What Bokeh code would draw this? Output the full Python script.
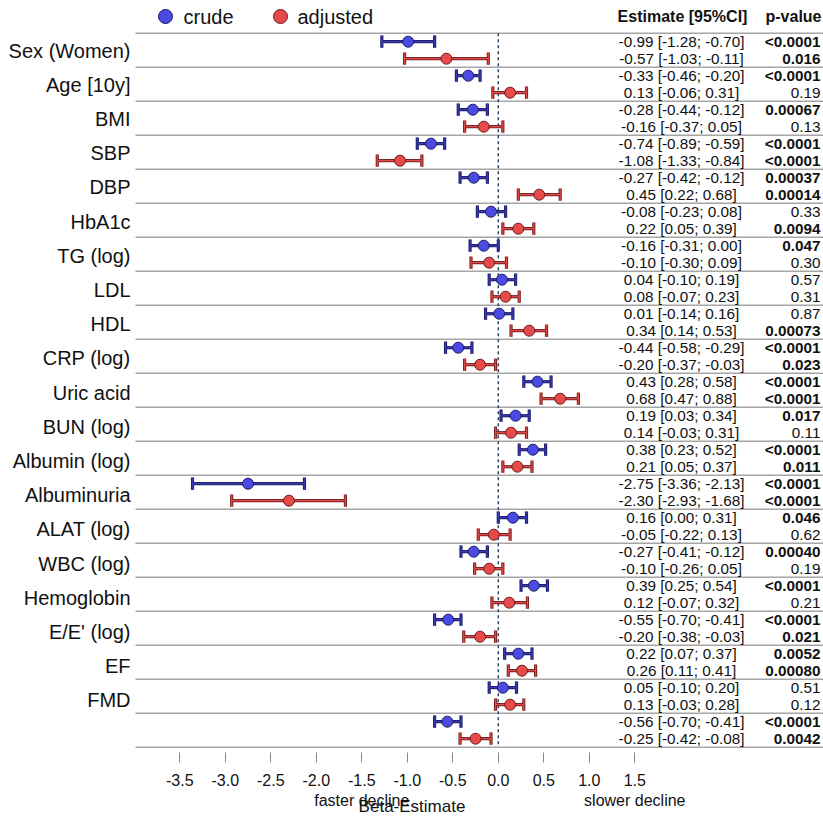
from bokeh.plotting import figure
from bokeh.models import Range1d, LinearAxis, FixedTicker, ColumnDataSource
from bokeh.core.properties import value
from bokeh.embed import file_html
from bokeh.resources import INLINE

# ---------------- data ----------------
labels = ["Sex (Women)", "Age [10y]", "BMI", "SBP", "DBP", "HbA1c", "TG (log)",
          "LDL", "HDL", "CRP (log)", "Uric acid", "BUN (log)", "Albumin (log)",
          "Albuminuria", "ALAT (log)", "WBC (log)", "Hemoglobin", "E/E' (log)",
          "EF", "FMD", ""]

crude_est = [-0.99, -0.33, -0.28, -0.74, -0.27, -0.08, -0.16, 0.04, 0.01, -0.44,
             0.43, 0.19, 0.38, -2.75, 0.16, -0.27, 0.39, -0.55, 0.22, 0.05, -0.56]
crude_lo = [-1.28, -0.46, -0.44, -0.89, -0.42, -0.23, -0.31, -0.10, -0.14, -0.58,
            0.28, 0.03, 0.23, -3.36, 0.00, -0.41, 0.25, -0.70, 0.07, -0.10, -0.70]
crude_hi = [-0.70, -0.20, -0.12, -0.59, -0.12, 0.08, 0.00, 0.19, 0.16, -0.29,
            0.58, 0.34, 0.52, -2.13, 0.31, -0.12, 0.54, -0.41, 0.37, 0.20, -0.41]
crude_p = ["<0.0001", "<0.0001", "0.00067", "<0.0001", "0.00037", "0.33", "0.047",
           "0.57", "0.87", "<0.0001", "<0.0001", "0.017", "<0.0001", "<0.0001",
           "0.046", "0.00040", "<0.0001", "<0.0001", "0.0052", "0.51", "<0.0001"]

adj_est = [-0.57, 0.13, -0.16, -1.08, 0.45, 0.22, -0.10, 0.08, 0.34, -0.20,
           0.68, 0.14, 0.21, -2.30, -0.05, -0.10, 0.12, -0.20, 0.26, 0.13, -0.25]
adj_lo = [-1.03, -0.06, -0.37, -1.33, 0.22, 0.05, -0.30, -0.07, 0.14, -0.37,
          0.47, -0.03, 0.05, -2.93, -0.22, -0.26, -0.07, -0.38, 0.11, -0.03, -0.42]
adj_hi = [-0.11, 0.31, 0.05, -0.84, 0.68, 0.39, 0.09, 0.23, 0.53, -0.03,
          0.88, 0.31, 0.37, -1.68, 0.13, 0.05, 0.32, -0.03, 0.41, 0.28, -0.08]
adj_p = ["0.016", "0.19", "0.13", "<0.0001", "0.00014", "0.0094", "0.30", "0.31",
         "0.00073", "0.023", "<0.0001", "0.11", "0.011", "<0.0001", "0.62", "0.19",
         "0.21", "0.021", "0.00080", "0.12", "0.0042"]

x_ticks = [-3.5, -3.0, -2.5, -2.0, -1.5, -1.0, -0.5, 0.0, 0.5, 1.0, 1.5]
x_tick_labels = ["-3.5", "-3.0", "-2.5", "-2.0", "-1.5", "-1.0", "-0.5", "0.0", "0.5", "1.0", "1.5"]
series_names = ["crude", "adjusted"]

# ---------------- layout helpers ----------------
W, H = 823, 819
FRAME_BOTTOM = 752
PX0, PXU = 497.8, 91.0          # pixel of beta=0, pixels per unit
ROW0, ROWH = 32.7, 34.0         # pixel of first row top, row height
LABEL0, LABELH = 50.0, 34.21    # left label placement (pixels)

def bx(px):
    return (px - PX0) / PXU

def ry(py):
    return (py - ROW0) / ROWH

FONT = "Liberation Sans"
n = len(labels)

p = figure(width=W, height=H, output_backend="svg", toolbar_location=None,
           x_range=Range1d(bx(0), bx(W)), y_range=Range1d(ry(FRAME_BOTTOM), ry(0)),
           x_axis_location=None, y_axis_location=None,
           min_border_left=0, min_border_right=0, min_border_top=0,
           min_border_bottom=H - FRAME_BOTTOM)
p.outline_line_color = None
p.xgrid.visible = False
p.ygrid.visible = False
p.background_fill_color = "white"
p.border_fill_color = "white"

# row separators
sep_y = [float(i) for i in range(n + 1)]
p.segment(x0=[bx(135)] * len(sep_y), x1=[bx(W)] * len(sep_y), y0=sep_y, y1=sep_y,
          line_color="#a6a6a6", line_width=1.5)

# zero line
p.segment(x0=[0.0], x1=[0.0], y0=[0.0], y1=[float(n)], line_color="#2c4866",
          line_width=1.5, line_dash="3 3")

def is_bold(s):
    if s.startswith("<"):
        return True
    return float(s) < 0.05

def fmt(e, lo, hi):
    return f"{e:.2f} [{lo:.2f}; {hi:.2f}]"

styles = [
    dict(est=crude_est, lo=crude_lo, hi=crude_hi, pv=crude_p, off=0.25,
         dark="#20206e", inner="#3a3ab4", fill="#4b4be4", edge="#1c1c66"),
    dict(est=adj_est, lo=adj_lo, hi=adj_hi, pv=adj_p, off=0.75,
         dark="#7c2222", inner="#e04a4a", fill="#e64a4a", edge="#6e1c1c"),
]
CAP = 0.18
TFS = "15.3px"
for st in styles:
    ys = [i + st["off"] for i in range(n)]
    src = ColumnDataSource(dict(y=ys, est=st["est"], lo=st["lo"], hi=st["hi"],
                                yc0=[y - CAP for y in ys], yc1=[y + CAP for y in ys]))
    for lw, col in ((3.2, st["dark"]), (1.2, st["inner"])):
        p.segment(x0="lo", x1="hi", y0="y", y1="y", source=src, line_color=col, line_width=lw)
        p.segment(x0="lo", x1="lo", y0="yc0", y1="yc1", source=src, line_color=col, line_width=lw)
        p.segment(x0="hi", x1="hi", y0="yc0", y1="yc1", source=src, line_color=col, line_width=lw)
    p.scatter(x="est", y="y", source=src, size=11, fill_color=st["fill"],
              line_color=st["edge"], line_width=1)
    # table text
    p.text(x=[bx(681)] * n, y=ys,
           text=[fmt(e, l, h) for e, l, h in zip(st["est"], st["lo"], st["hi"])],
           text_font=value(FONT), text_font_size=value(TFS), text_color="#111111",
           text_align="center", text_baseline="middle")
    bold_idx = [i for i in range(n) if is_bold(st["pv"][i])]
    norm_idx = [i for i in range(n) if not is_bold(st["pv"][i])]
    for idx, fs in ((bold_idx, "bold"), (norm_idx, "normal")):
        p.text(x=[bx(820)] * len(idx), y=[ys[i] for i in idx], text=[st["pv"][i] for i in idx],
               text_font=value(FONT), text_font_size=value(TFS), text_font_style=fs,
               text_color="#111111", text_align="right", text_baseline="middle")

# left labels
p.text(x=[bx(130)] * n, y=[ry(LABEL0 + i * LABELH) for i in range(n)], text=labels,
       text_font=value(FONT), text_font_size=value("20px"), text_color="#111111",
       text_align="right", text_baseline="middle")

# legend
leg_y = ry(16)
p.scatter(x=[bx(165)], y=[leg_y], size=14, fill_color=styles[0]["fill"], line_color=styles[0]["edge"], line_width=1)
p.scatter(x=[bx(280)], y=[leg_y], size=14, fill_color=styles[1]["fill"], line_color=styles[1]["edge"], line_width=1)
p.text(x=[bx(183), bx(297)], y=[leg_y, leg_y], text=series_names,
       text_font=value(FONT), text_font_size=value("20px"), text_color="#111111",
       text_align="left", text_baseline="middle")

# table header
p.text(x=[bx(682)], y=[leg_y], text=["Estimate [95%CI]"], text_font=value(FONT),
       text_font_size=value("16px"), text_font_style="bold", text_color="#111111",
       text_align="center", text_baseline="middle")
p.text(x=[bx(821)], y=[leg_y], text=["p-value"], text_font=value(FONT),
       text_font_size=value("16px"), text_font_style="bold", text_color="#111111",
       text_align="right", text_baseline="middle")

# axes
ax1 = LinearAxis(ticker=FixedTicker(ticks=x_ticks),
                 major_label_overrides={t: l for t, l in zip(x_ticks, x_tick_labels)})
ax1.axis_line_color = None
ax1.major_tick_in = 0
ax1.major_tick_out = 10
ax1.major_tick_line_color = "#8a8a8a"
ax1.major_tick_line_width = 1
ax1.minor_tick_line_color = None
ax1.major_label_standoff = 11
ax1.major_label_text_font = FONT
ax1.major_label_text_font_size = "16px"
ax1.major_label_text_color = "#111111"
p.add_layout(ax1, "below")

ax2 = LinearAxis(ticker=FixedTicker(ticks=[-1.5, 1.5]),
                 major_label_overrides={-1.5: "faster decline", 1.5: "slower decline"})
ax2.axis_line_color = None
ax2.major_tick_in = 0
ax2.major_tick_out = 0
ax2.major_tick_line_color = None
ax2.minor_tick_line_color = None
ax2.major_label_standoff = 3
ax2.major_label_text_font = FONT
ax2.major_label_text_font_size = "16px"
ax2.major_label_text_color = "#111111"
ax2.axis_label = "Beta-Estimate"
ax2.axis_label_standoff = -15
ax2.axis_label_text_font = FONT
ax2.axis_label_text_font_size = "17px"
ax2.axis_label_text_font_style = "normal"
ax2.axis_label_text_color = "#111111"
p.add_layout(ax2, "below")

open("out.html", "w").write(file_html(p, INLINE))
